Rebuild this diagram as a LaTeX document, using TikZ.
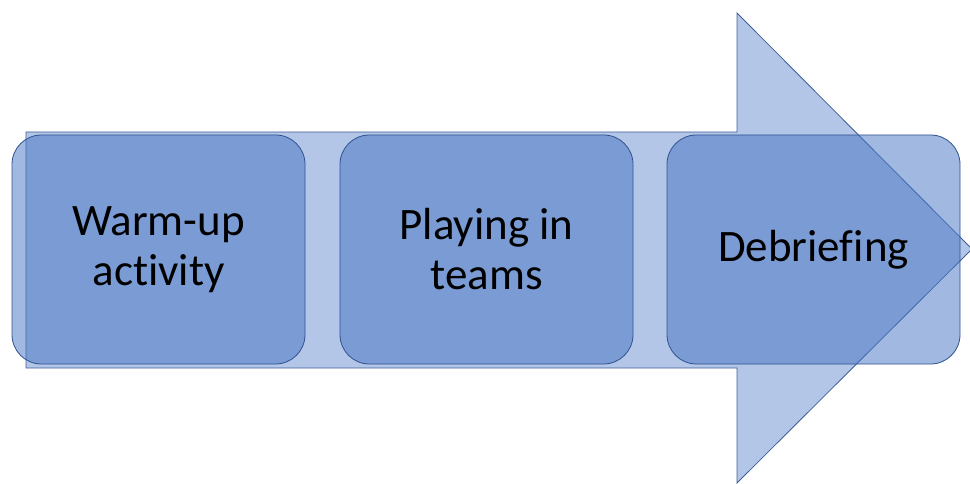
\documentclass[tikz,border=0pt]{standalone}
\usepackage{fontspec}
\setmainfont[Ligatures=NoCommon]{Carlito}
\definecolor{accent}{RGB}{68,114,196}
\definecolor{edge}{RGB}{47,82,143}
\begin{document}
\begin{tikzpicture}[x=0.75pt,y=-0.75pt,
  bigarrow/.style={fill=accent,fill opacity=0.4,draw=edge,draw opacity=0.9,line width=0.6pt,line join=miter},
  stagebox/.style={draw=edge,line width=0.6pt,fill=accent,fill opacity=0.5,text opacity=1,
    rounded corners=22pt,minimum width=219.75pt,minimum height=171.75pt,inner sep=0pt,
    align=center,font=\fontsize{33.75}{37.5}\selectfont,text=black}]
\useasboundingbox (0,0) rectangle (970,484);
\fill[white] (0,0) rectangle (970,484);
\draw[bigarrow] (26,132) -- (737,132) -- (737,13) -- (972,249) -- (737,483) -- (737,368) -- (26,368) -- cycle;
\node[stagebox] (s1) at (158.5,249.5) {Warm-up\\activity};
\node[stagebox] (s2) at (486.5,249.5) {Playing in\\teams};
\node[stagebox] (s3) at (813.5,249.5) {Debriefing};
\end{tikzpicture}
\end{document}
